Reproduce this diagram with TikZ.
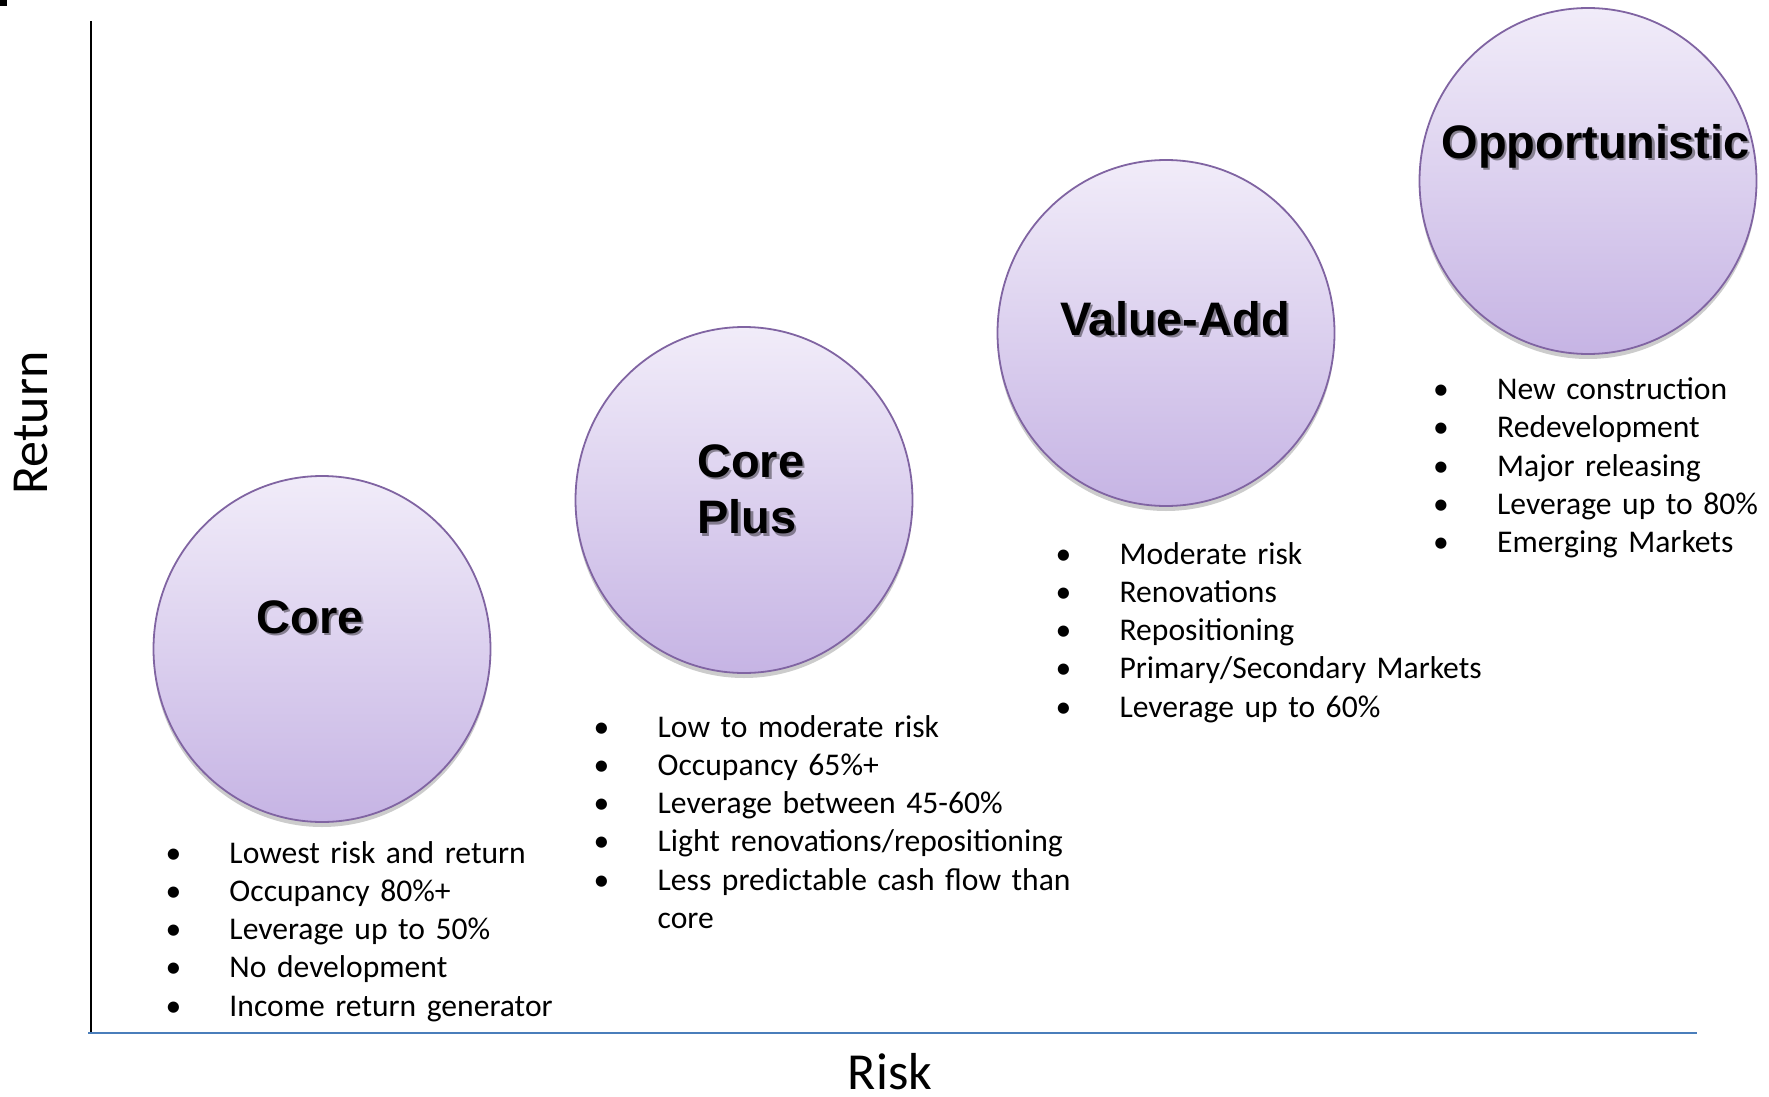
\documentclass[tikz,border=0pt]{standalone}
\usepackage{fontspec}
\setmainfont{Carlito}
\newfontfamily\titlefont{Liberation Sans}
\usepackage{tikz}
\usetikzlibrary{shapes.geometric}
\usetikzlibrary{shadows}

\definecolor{bubbletop}{RGB}{241,236,249}
\definecolor{bubblebottom}{RGB}{198,180,228}
\definecolor{bubbleline}{RGB}{128,100,162}
\definecolor{riskaxis}{RGB}{74,126,187}

\newcommand{\bul}{\makebox[64pt][l]{\textbullet}}
\newcommand{\listfont}{\fontsize{31.6}{38.3}\selectfont\spaceskip 7.1pt\relax}

\tikzset{
bubble/.style={
  ellipse,
  inner sep=0pt,
  minimum width=337pt,
  minimum height=346pt,
  draw=bubbleline,
  line width=1.8pt,
  top color=bubbletop,
  bottom color=bubblebottom,
  drop shadow={shadow xshift=0pt,shadow yshift=-5pt,opacity=0.2,fill=black}
  },
title/.style={
  inner sep=0pt,
  anchor=base,
  font=\titlefont\bfseries\fontsize{47}{56.5}\selectfont
  },
titleshadow/.style={
  title,
  text=black,
  opacity=0.4
  },
bullets/.style={
  inner sep=0pt,
  anchor=base west,
  text width=480pt,
  align=left,
  font=\listfont
  },
axislabel/.style={
  inner sep=0pt,
  anchor=base,
  font=\fontsize{52}{62}\selectfont
  }
}

\begin{document}
\begin{tikzpicture}[x=1pt,y=-1pt]
\useasboundingbox (0,0) rectangle (1769,1097);
\fill (0,0) rectangle (7,6);

% axes
\coordinate (ytop) at (91,21);
\coordinate (origin) at (91,1033);
\coordinate (xstart) at (88,1033);
\coordinate (xend) at (1697,1033);
\draw[line width=2pt] (ytop) -- (origin);
\draw[riskaxis,line width=2.6pt] (xstart) -- (xend);
\node[axislabel,rotate=90] (ret) at (47,423) {Return};
\node[axislabel] (risk) at (890,1089) {Risk};

% bubbles
\node[bubble] (core) at (322,649) {};
\node[bubble] (coreplus) at (744,500) {};
\node[bubble] (valueadd) at (1166,333) {};
\node[bubble] (opport) at (1588,181) {};

% titles, shadow first
\node[titleshadow] (coreshd) at (312.5,635.5) {Core};
\node[title] (coretitle) at (310,633) {Core};
\node[titleshadow,anchor=base west,text width=150pt,align=left] (coreplusshd) at (699.5,479.5) {Core\\Plus};
\node[title,anchor=base west,text width=150pt,align=left] (coreplustitle) at (697,477) {Core\\Plus};
\node[titleshadow] (valueaddshd) at (1177.5,337.5) {Value-Add};
\node[title] (valueaddtitle) at (1175,335) {Value-Add};
\node[titleshadow] (opportshd) at (1598,160.5) {Opportunistic};
\node[title] (opporttitle) at (1595.5,158) {Opportunistic};

% bullet lists
\node[bullets] (corelist) at (165.3,863) {\bul Lowest risk and return\\
  \bul Occupancy 80\%+\\
  \bul Leverage up to 50\%\\
  \bul No development\\
  \bul Income return generator};
\node[bullets] (corepluslist) at (593.5,737) {\bul Low to moderate risk\\
  \bul Occupancy 65\%+\\
  \bul Leverage between 45-60\%\\
  \bul Light renovations/repositioning\\
  \bul Less predictable cash flow than\\
  \hspace*{64pt}core};
\node[bullets] (valueaddlist) at (1055.4,564) {\bul Moderate risk\\
  \bul Renovations\\
  \bul Repositioning\\
  \bul Primary/Secondary Markets\\
  \bul Leverage up to 60\%};
\node[bullets] (opportlist) at (1433,399.5) {\bul New construction\\
  \bul Redevelopment\\
  \bul Major releasing\\
  \bul Leverage up to 80\%\\
  \bul Emerging Markets};
\end{tikzpicture}
\end{document}
